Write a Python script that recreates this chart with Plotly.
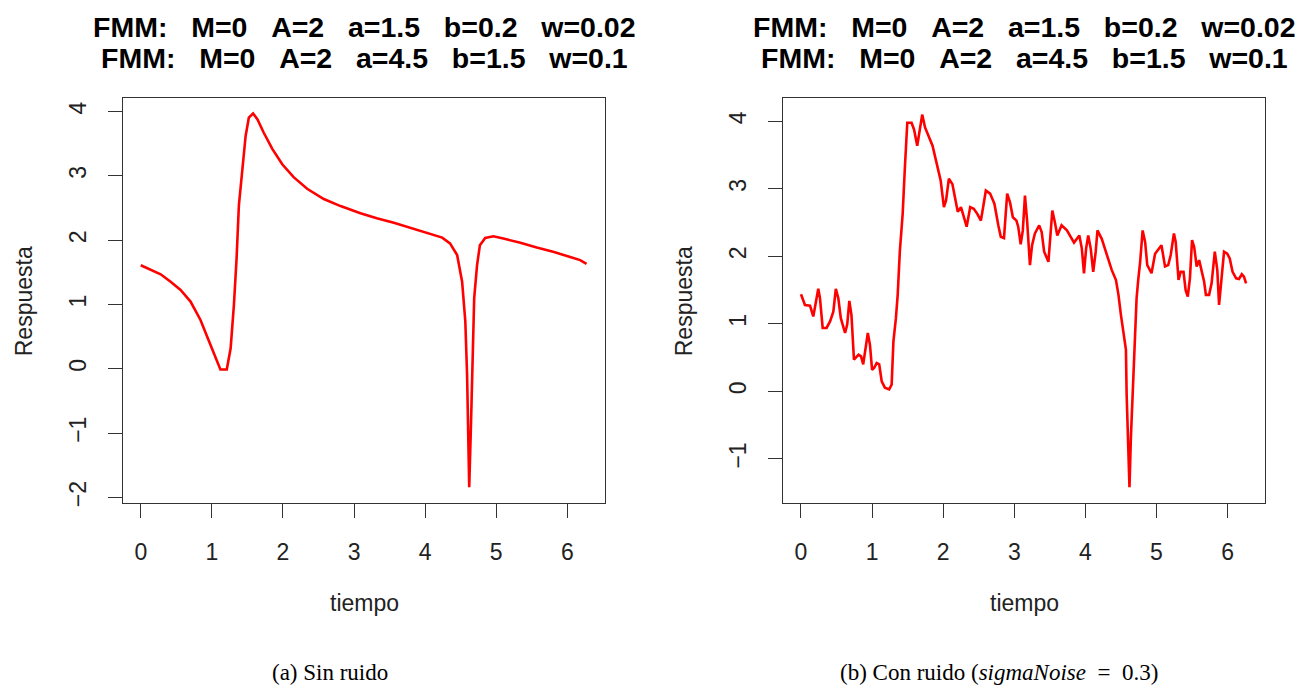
import plotly.graph_objects as go

# ---- data ----
t_clean = [0.00, 0.14, 0.28, 0.42, 0.56, 0.70, 0.84, 0.96, 1.053, 1.12, 1.21, 1.264, 1.31, 1.348,
           1.38, 1.43, 1.475, 1.52, 1.58, 1.64, 1.73, 1.85, 1.99, 2.15, 2.34, 2.575, 2.81, 3.09,
           3.32, 3.56, 3.79, 4.03, 4.24, 4.35, 4.45, 4.52, 4.565, 4.59, 4.60, 4.62, 4.645, 4.67,
           4.69, 4.73, 4.77, 4.845, 4.96, 5.10, 5.34, 5.57, 5.80, 6.04, 6.18, 6.27]
y_clean = [1.61, 1.535, 1.47, 1.355, 1.226, 1.046, 0.76, 0.43, 0.17, -0.01, -0.01, 0.32, 0.99, 1.72,
           2.54, 3.16, 3.62, 3.905, 3.97, 3.88, 3.67, 3.42, 3.18, 2.98, 2.80, 2.64, 2.53, 2.42,
           2.34, 2.27, 2.19, 2.11, 2.04, 1.95, 1.77, 1.355, 0.74, -0.09, -0.96, -1.84, -0.86, 0.12,
           1.10, 1.61, 1.92, 2.035, 2.06, 2.025, 1.96, 1.885, 1.82, 1.74, 1.69, 1.63]

t_noise = [0.00, 0.02, 0.056, 0.127, 0.173, 0.243, 0.267, 0.305, 0.36, 0.41, 0.455, 0.49, 0.525,
           0.56, 0.62, 0.65, 0.68, 0.71, 0.745, 0.81, 0.845, 0.875, 0.91, 0.94, 0.97, 1.00, 1.03,
           1.065, 1.10, 1.135, 1.18, 1.24, 1.275, 1.30, 1.335, 1.36, 1.39, 1.43, 1.46, 1.495,
           1.555, 1.59, 1.635, 1.675, 1.705, 1.745, 1.79, 1.85, 1.91, 1.965, 2.01, 2.04, 2.08,
           2.13, 2.17, 2.205, 2.25, 2.33, 2.38, 2.43, 2.48, 2.53, 2.565, 2.60, 2.66, 2.72, 2.775,
           2.81, 2.855, 2.90, 2.94, 2.98, 3.03, 3.055, 3.09, 3.12, 3.15, 3.18, 3.22, 3.25, 3.29,
           3.35, 3.385, 3.42, 3.48, 3.50, 3.535, 3.57, 3.605, 3.665, 3.74, 3.84, 3.915, 3.95,
           3.98, 4.01, 4.04, 4.075, 4.11, 4.145, 4.17, 4.23, 4.30, 4.37, 4.43, 4.465, 4.50, 4.535,
           4.57, 4.58, 4.60, 4.62, 4.64, 4.665, 4.69, 4.72, 4.745, 4.77, 4.805, 4.84, 4.87, 4.93,
           4.98, 5.04, 5.07, 5.12, 5.165, 5.20, 5.245, 5.27, 5.31, 5.34, 5.38, 5.41, 5.44, 5.47,
           5.50, 5.53, 5.565, 5.60, 5.67, 5.695, 5.74, 5.775, 5.82, 5.855, 5.88, 5.915, 5.95,
           5.995, 6.03, 6.07, 6.12, 6.16, 6.20, 6.23, 6.26]
y_noise = [1.44, 1.38, 1.28, 1.27, 1.11, 1.52, 1.38, 0.94, 0.94, 1.04, 1.18, 1.52, 1.38,
           1.085, 0.865, 0.99, 1.34, 1.13, 0.47, 0.545, 0.52, 0.40, 0.69, 0.865, 0.69, 0.32, 0.35,
           0.42, 0.40, 0.15, 0.055, 0.03, 0.10, 0.74, 1.085, 1.43, 2.07, 2.63, 3.29, 3.98,
           3.98, 3.88, 3.64, 3.93, 4.10, 3.91, 3.785, 3.64, 3.37, 3.12, 2.73, 2.83, 3.15,
           3.07, 2.85, 2.66, 2.73, 2.44, 2.73, 2.705, 2.63, 2.53, 2.75, 2.975, 2.93, 2.78, 2.46,
           2.29, 2.27, 2.93, 2.80, 2.58, 2.53, 2.44, 2.18, 2.385, 2.90, 2.53, 1.87, 2.165, 2.34,
           2.46, 2.36, 2.07, 1.92, 2.165, 2.68, 2.51, 2.31, 2.46, 2.385, 2.205, 2.31, 2.115,
           1.75, 2.115, 2.31, 2.115, 1.77, 2.07, 2.385, 2.26, 2.02, 1.80, 1.65, 1.43, 1.13, 0.84,
           0.62, -0.044, -0.71, -1.42, -0.68, 0.03, 0.79, 1.38, 1.675, 1.92, 2.385, 2.215, 1.87, 1.75,
           2.04, 2.115, 2.165, 1.85, 1.87, 2.02, 2.34, 2.215, 1.65, 1.77, 1.77, 1.50, 1.405, 1.675,
           2.24, 2.14, 1.85, 1.945, 1.625, 1.43, 1.43, 1.60, 2.07, 1.80, 1.28, 1.675, 2.07,
           2.04, 1.97, 1.77, 1.675, 1.665, 1.735, 1.70, 1.60]

x_ticks = [0, 1, 2, 3, 4, 5, 6]
y_ticks_left = [-2, -1, 0, 1, 2, 3, 4]
y_ticks_right = [-1, 0, 1, 2, 3, 4]

title_l1 = "FMM:   M=0   A=2   a=1.5   b=0.2   w=0.02"
title_l2 = "FMM:   M=0   A=2   a=4.5   b=1.5   w=0.1"

W, H = 1300, 689
def px(x):
    return x / W
def py(y):
    return 1 - y / H

fig = go.Figure()
fig.add_trace(go.Scatter(x=t_clean, y=y_clean, mode="lines",
                         line=dict(color="#ff0000", width=2.6), xaxis="x", yaxis="y",
                         showlegend=False))
fig.add_trace(go.Scatter(x=t_noise, y=y_noise, mode="lines",
                         line=dict(color="#ff0000", width=2.6), xaxis="x2", yaxis="y2",
                         showlegend=False))

SANS = "Liberation Sans, Arial"
axis_common = dict(showline=True, mirror=True, linecolor="#333", linewidth=1.3,
                   ticks="outside", ticklen=14, tickwidth=1.3, tickcolor="#333",
                   showgrid=False, zeroline=False,
                   tickfont=dict(family=SANS, size=23, color="#222"))

fig.update_layout(
    width=W, height=H, margin=dict(l=0, r=0, t=0, b=0),
    paper_bgcolor="white", plot_bgcolor="white",
    xaxis=dict(domain=[px(123), px(605)], range=[-0.25, 6.53], tickvals=x_ticks,
               anchor="y", ticklabelstandoff=14, **axis_common),
    yaxis=dict(domain=[py(506), py(99)], range=[-2.087, 4.204], tickvals=y_ticks_left,
               anchor="x", tickangle=-90, ticklabelstandoff=13, **axis_common),
    xaxis2=dict(domain=[px(783), px(1265)], range=[-0.253, 6.526], tickvals=x_ticks,
                anchor="y2", ticklabelstandoff=14, **axis_common),
    yaxis2=dict(domain=[py(506), py(99)], range=[-1.654, 4.34], tickvals=y_ticks_right,
                anchor="x2", tickangle=-90, ticklabelstandoff=13, **axis_common),
)

nb = lambda s: s.replace(" ", "\u00a0")
ann = []
tfont = dict(family=SANS, size=28.5, color="black")
lfont = dict(family=SANS, size=23, color="#222")
for cx in (364, 1024):
    ann.append(dict(x=px(cx), y=py(27), xref="paper", yref="paper", text="<b>" + nb(title_l1) + "</b>",
                    showarrow=False, font=tfont, xanchor="center", yanchor="middle"))
    ann.append(dict(x=px(cx), y=py(58), xref="paper", yref="paper", text="<b>" + nb(title_l2) + "</b>",
                    showarrow=False, font=tfont, xanchor="center", yanchor="middle"))
    ann.append(dict(x=px(cx), y=py(607), xref="paper", yref="paper", text="tiempo",
                    showarrow=False, font=lfont, xanchor="center", yanchor="middle"))
for lx in (24, 684):
    ann.append(dict(x=px(lx), y=py(303), xref="paper", yref="paper", text="Respuesta",
                    showarrow=False, textangle=-90, font=lfont,
                    xanchor="center", yanchor="middle"))
cfont = dict(family="Liberation Serif, serif", size=23, color="black")
ann.append(dict(x=px(330), y=py(676), xref="paper", yref="paper", text="(a) Sin ruido",
                showarrow=False, font=cfont, xanchor="center", yanchor="middle"))
ann.append(dict(x=px(999), y=py(676), xref="paper", yref="paper",
                text="(b) Con ruido (<i>sigmaNoise</i>" + nb("  =  ") + "0.3)",
                showarrow=False, font=cfont, xanchor="center", yanchor="middle"))
fig.update_layout(annotations=ann)

fig.write_html("out.html")
